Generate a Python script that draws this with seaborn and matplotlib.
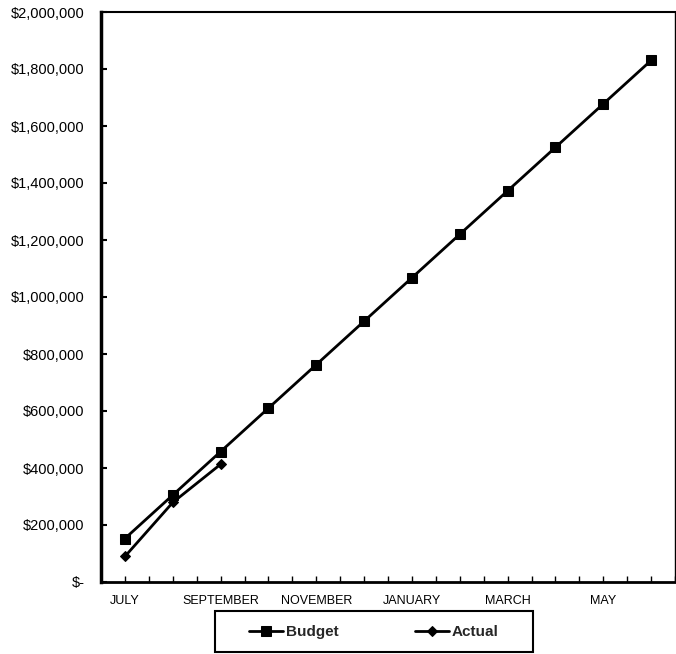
import matplotlib
matplotlib.use("Agg")
import matplotlib.pyplot as plt
from matplotlib.patches import Rectangle
from matplotlib.ticker import FuncFormatter, MultipleLocator
import seaborn as sns
import pandas as pd

# Monthly cumulative figures for the fiscal year
months = ["JULY", "AUGUST", "SEPTEMBER", "OCTOBER", "NOVEMBER", "DECEMBER",
          "JANUARY", "FEBRUARY", "MARCH", "APRIL", "MAY", "JUNE"]
budget = [152500, 305000, 457500, 610000, 762500, 915000,
          1067500, 1220000, 1372500, 1525000, 1677500, 1830000]
actual = [89500, 279000, 413000]
series_names = ["Budget", "Actual"]

rows = []
for i, v in enumerate(budget):
    rows.append({"pos": i, "Month": months[i], "Amount": v, "Series": "Budget"})
for i, v in enumerate(actual):
    rows.append({"pos": i, "Month": months[i], "Amount": v, "Series": "Actual"})
df = pd.DataFrame(rows)

sns.set_theme(style="white")
plt.rcParams["font.family"] = ["Liberation Sans", "DejaVu Sans"]

fig = plt.figure(figsize=(6.76, 6.54), dpi=100)
ax = fig.add_axes([101 / 676, 72 / 654, 574 / 676, 570 / 654])

sns.lineplot(data=df, x="pos", y="Amount", hue="Series", style="Series",
             hue_order=series_names, style_order=series_names,
             palette={"Budget": "black", "Actual": "black"},
             markers={"Budget": "s", "Actual": "D"}, dashes=False,
             linewidth=2.0, markersize=6.5, markeredgecolor="black",
             ax=ax, legend=True)
# Diamonds a touch smaller than the squares
for line in ax.lines:
    if line.get_marker() == "D":
        line.set_markersize(5.5)

ax.set_xlim(-0.5, len(months) - 0.5)
ax.set_ylim(0, 2000000)
ax.set_xlabel("")
ax.set_ylabel("")

ax.set_xticks(range(len(months)))
ax.set_xticklabels([m if i % 2 == 0 else "" for i, m in enumerate(months)], fontsize=9)
ax.xaxis.set_minor_locator(MultipleLocator(1, offset=0.5))
ax.yaxis.set_major_locator(MultipleLocator(200000))
ax.yaxis.set_major_formatter(FuncFormatter(lambda v, p: "$-" if v == 0 else f"${v:,.0f}"))
ax.tick_params(axis="y", labelsize=10.5, direction="in", length=4, width=1.5,
               left=True, pad=12, colors="black")
ax.tick_params(axis="x", which="both", direction="in", length=4, width=1.0,
               bottom=True, pad=9, colors="black")

for side, w in {"left": 2.5, "bottom": 2.0, "top": 1.5, "right": 1.0}.items():
    ax.spines[side].set_visible(True)
    ax.spines[side].set_color("black")
    ax.spines[side].set_linewidth(w)

handles, labels = ax.get_legend_handles_labels()
ax.get_legend().remove()
leg = fig.legend(handles, labels, loc="center", bbox_to_anchor=(374 / 676, 22 / 654),
                 ncol=2, frameon=False, handlelength=2.2, handletextpad=0.2,
                 columnspacing=5.0, prop={"weight": "bold", "size": 11})

fig.patches.append(Rectangle((215 / 676, 2 / 654), 318 / 676, 41 / 654,
                             transform=fig.transFigure, fill=False,
                             edgecolor="black", linewidth=1.5))

fig.savefig("out.png", dpi=100)
